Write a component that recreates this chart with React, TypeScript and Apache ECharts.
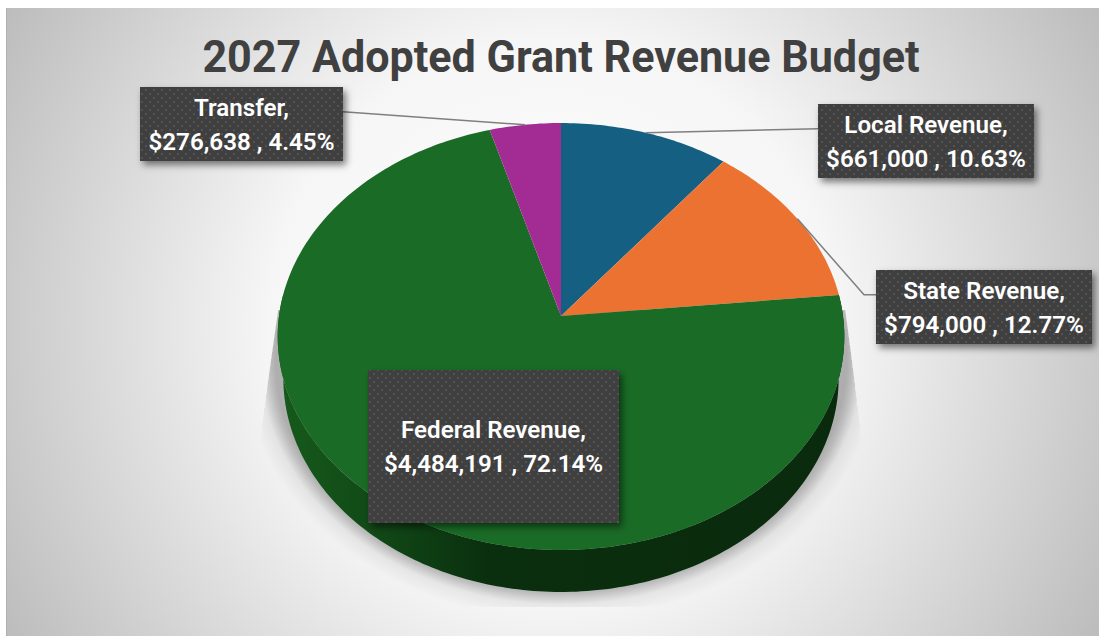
import React, { useEffect, useRef } from "react";
import * as echarts from "echarts";

const titleText = "2027 Adopted Grant Revenue Budget";
const categories = ["Local Revenue", "State Revenue", "Federal Revenue", "Transfer"];
const revenues = [661000, 794000, 4484191, 276638];
const sliceColors = ["#156082", "#EC7231", "#1A6B26", "#A22C93"];
// label box per category: x, y, w, h
const labelBoxes = [
  [818, 104, 216, 74],
  [876, 270, 216, 74],
  [368, 370, 251, 153],
  [140, 87, 203, 74],
];

const FONT = "Roboto";
const CX = 561, CY = 316, RX = 282, RY = 211.5, K = 0.096, DEPTH = 42, WALL_SHRINK = 0.98;
const total = revenues.reduce((a, b) => a + b, 0);
const TWO_PI = Math.PI * 2;
const angleAt = (i: number) => (revenues.slice(0, i).reduce((a, b) => a + b, 0) / total) * TWO_PI;

function proj(t: number): [number, number] {
  const u = Math.sin(t), v = Math.cos(t), w = 1 + K * v;
  return [CX + (RX * u) / w, CY - (RY * v) / w];
}
function projLow(t: number): [number, number] {
  const u = Math.sin(t), v = Math.cos(t), w = 1 + K * v;
  return [CX + (RX * WALL_SHRINK * u) / w, CY - (RY * v) / w + DEPTH];
}
function arc(a: number, b: number, f: (t: number) => [number, number]) {
  const n = Math.max(2, Math.ceil(((b - a) * 180) / Math.PI));
  const pts: [number, number][] = [];
  for (let i = 0; i <= n; i++) pts.push(f(a + ((b - a) * i) / n));
  return pts;
}

function shadowLayers() {
  const out: any[] = [];
  const N = 30;
  const leftEdge = (y: number) => 278 - (y - 310) * 0.143;
  const rightEdge = (y: number) => 845.5 + (y - 310) * 0.13;
  for (let e = N; e >= 0; e--) {
    const pts: [number, number][] = [];
    for (let d = 0; d <= 360; d += 3) {
      const t = (d * Math.PI) / 180;
      let x = 561 + (286 + e * 1.05) * Math.sin(t);
      let y = 360 - (230 + e) * Math.cos(t);
      y = Math.max(Math.min(y, 607), 310);
      x = Math.max(x, leftEdge(y));
      x = Math.min(x, rightEdge(y));
      pts.push([x, y]);
    }
    out.push({
      type: "polygon",
      z: 1,
      silent: true,
      shape: { points: pts },
      style: { fill: `rgba(0,0,0,${e > 14 ? 0.005 : 0.016})` },
    });
  }
  return out;
}

function dotTile() {
  const c = document.createElement("canvas");
  c.width = 8;
  c.height = 8;
  const g = c.getContext("2d")!;
  g.fillStyle = "#3f3f3f";
  g.fillRect(0, 0, 8, 8);
  g.fillStyle = "#535353";
  g.fillRect(1, 1, 2, 2);
  g.fillRect(5, 5, 2, 2);
  return c;
}

export default function App() {
  const ref = useRef<HTMLDivElement>(null);
  useEffect(() => {
    document.body.style.margin = "0";
    const chart = echarts.init(ref.current!, undefined, { renderer: "svg" });
    const tile = dotTile();

    const money = (v: number) => "$" + v.toLocaleString("en-US");
    const labels: any[] = [];
    const leaders: any[] = [];
    revenues.forEach((v, i) => {
      const [x, y, w, h] = labelBoxes[i];
      const pct = ((v / total) * 100).toFixed(2) + "%";
      labels.push({
        type: "rect", z: 6, silent: true,
        shape: { x, y, width: w, height: h },
        style: { fill: "#3f3f3f", shadowBlur: 7, shadowOffsetX: 3, shadowOffsetY: 4, shadowColor: "rgba(0,0,0,0.5)" },
      });
      labels.push({
        type: "rect", z: 7, silent: true,
        shape: { x, y, width: w, height: h },
        style: { fill: { image: tile, repeat: "repeat", imageWidth: 8, imageHeight: 8 } },
      });
      labels.push({
        type: "text", z: 8, silent: true,
        x: x + w / 2, y: y + h / 2 + 1, scaleX: 1.05,
        style: {
          text: `${categories[i]},\n${money(v)} , ${pct}`,
          fill: "#ffffff", fontFamily: FONT, fontWeight: 600, fontSize: 23, lineHeight: 34,
          align: "center", verticalAlign: "middle", textAlign: "center", textVerticalAlign: "middle",
        },
      });
      const mid = proj((angleAt(i) + angleAt(i + 1)) / 2);
      const side = x > CX ? x : x + w;
      const yy = y + h / 3;
      const pts: number[][] = [[side, yy]];
      if (i === 1) pts.push([side - 12, yy]);
      pts.push(mid);
      if (i !== 2)
        leaders.push({
          type: "polyline", z: 5, silent: true,
          shape: { points: pts },
          style: { stroke: "#7f7f7f", lineWidth: 1.5, fill: "none" },
        });
    });

    const option: any = {
      animation: false,
      graphic: {
        elements: [
          {
            type: "rect", z: 0, silent: true,
            shape: { x: 6, y: 8, width: 1093, height: 628 },
            style: {
              fill: new echarts.graphic.RadialGradient(552, 322, 625, [
                { offset: 0, color: "#ffffff" },
                { offset: 0.45, color: "#f6f6f6" },
                { offset: 1, color: "#bdbdbd" },
              ], true),
            },
          },
          {
            type: "rect", z: 0, silent: true,
            shape: { x: 6, y: 8, width: 1, height: 628 },
            style: { fill: "rgba(0,0,0,0.07)" },
          },
          ...shadowLayers(),
          {
            type: "text", z: 8, silent: true,
            x: 561, y: 57, scaleX: 0.958,
            style: {
              text: titleText, fill: "#404040", fontFamily: FONT, fontWeight: 700, fontSize: 45,
              textAlign: "center", textVerticalAlign: "middle", align: "center", verticalAlign: "middle",
            },
          },
          ...leaders,
          ...labels,
        ],
      },
      series: [
        {
          type: "custom",
          coordinateSystem: "none",
          z: 3,
          silent: true,
          data: revenues.map((v, i) => ({ name: categories[i], value: [v] })),
          renderItem: (params: any) => {
            const i = params.dataIndex;
            const a = angleAt(i), b = angleAt(i + 1);
            const children: any[] = [];
            const wa = Math.max(a, (84 * Math.PI) / 180), wb = Math.min(b, (276 * Math.PI) / 180);
            if (wb > wa) {
              children.push({
                type: "polygon",
                shape: { points: [...arc(wa, wb, proj), ...arc(wa, wb, projLow).reverse()] },
                style: {
                  fill: new echarts.graphic.LinearGradient(285, 0, 850, 0, [
                    { offset: 0, color: "#16591c" },
                    { offset: 0.15, color: "#114a17" },
                    { offset: 0.36, color: "#0a2f0e" },
                    { offset: 1, color: "#0a2a0d" },
                  ], true),
                },
              });
            }
            children.push({
              type: "polygon",
              shape: { points: [[CX, CY], ...arc(a, b, proj)] },
              style: { fill: sliceColors[i] },
            });
            return { type: "group", children };
          },
        },
      ],
    };
    chart.setOption(option);
    return () => chart.dispose();
  }, []);
  return <div ref={ref} style={{ position: "absolute", left: 0, top: 0, width: 1099, height: 636 }} />;
}
